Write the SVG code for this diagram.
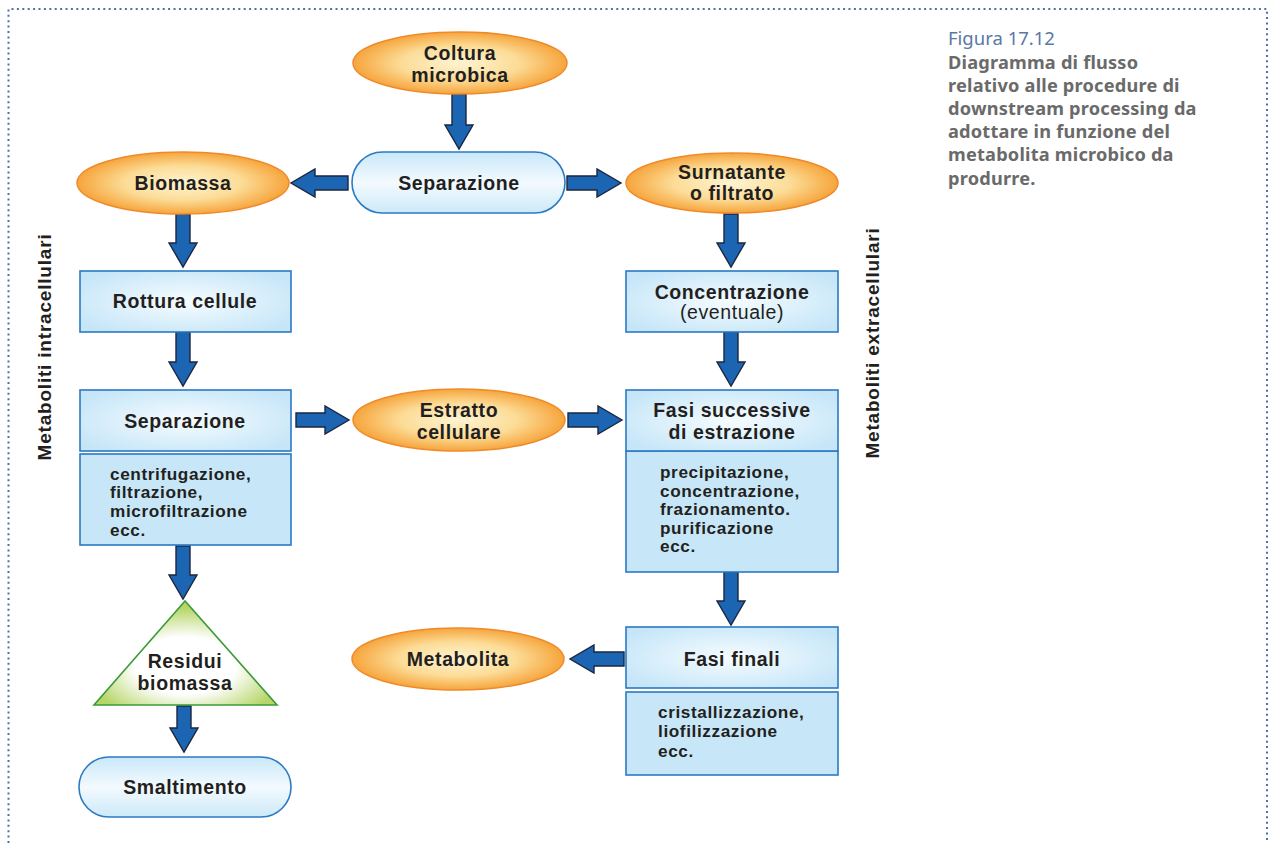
<svg xmlns="http://www.w3.org/2000/svg" width="1275" height="843" viewBox="0 0 1275 843">
<style>
.t{font-family:"Liberation Sans",Arial,sans-serif;font-weight:bold;font-size:19.5px;fill:#231f20;text-anchor:middle;letter-spacing:0.6px}
.r{font-weight:normal}
.d{font-family:"Liberation Sans",Arial,sans-serif;font-weight:bold;font-size:17.2px;fill:#231f20;letter-spacing:0.6px}
.v{font-family:"Liberation Sans",Arial,sans-serif;font-weight:bold;font-size:19px;fill:#231f20;text-anchor:middle;letter-spacing:0.8px}
.ell{fill:url(#og);stroke:#ef8a2c;stroke-width:1.5}
.box{fill:url(#bg);stroke:#2b7ac2;stroke-width:1.6}
.det{fill:#c7e7f8;stroke:#2b7ac2;stroke-width:1.6}
.pill{fill:url(#pg);stroke:#2b7ac2;stroke-width:1.6}
.arr{fill:#1b65b2;stroke:#1c2640;stroke-width:1.4;stroke-linejoin:miter}
.cap{font-family:"Noto Sans","Open Sans",sans-serif;font-size:18.2px;font-weight:bold;fill:#6a6a6a;letter-spacing:0.2px}
</style>
<defs>
<radialGradient id="og" cx="50%" cy="50%" r="50%">
<stop offset="0" stop-color="#fef4d2"/>
<stop offset="0.55" stop-color="#fcdc97"/>
<stop offset="1" stop-color="#f6a53c"/>
</radialGradient>
<radialGradient id="bg" cx="50%" cy="50%" r="60%">
<stop offset="0" stop-color="#f6fcff"/>
<stop offset="1" stop-color="#c6e6f8"/>
</radialGradient>
<linearGradient id="pg" x1="0" y1="0" x2="0" y2="1">
<stop offset="0" stop-color="#c9e8f9"/>
<stop offset="0.5" stop-color="#f3faff"/>
<stop offset="1" stop-color="#cde9f8"/>
</linearGradient>
<radialGradient id="gg" cx="50%" cy="62%" r="55%">
<stop offset="0" stop-color="#ffffff"/>
<stop offset="0.5" stop-color="#ffffff"/>
<stop offset="1" stop-color="#b7d66a"/>
</radialGradient>
</defs>
<rect width="1275" height="843" fill="#ffffff"/>
<path d="M8.5 843 V9 H1267 V843" fill="none" stroke="#4f70a4" stroke-width="2" stroke-dasharray="2 3.4"/>

<g id="caption">
<text x="948" y="45" font-family="'Noto Sans','Open Sans',sans-serif" font-size="18.5px" fill="#5a78a6">Figura 17.12</text>
<text class="cap" x="948" y="69">Diagramma di flusso</text>
<text class="cap" x="948" y="92">relativo alle procedure di</text>
<text class="cap" x="948" y="115">downstream processing da</text>
<text class="cap" x="948" y="138">adottare in funzione del</text>
<text class="cap" x="948" y="161">metabolita microbico da</text>
<text class="cap" x="948" y="185">produrre.</text>
</g>

<g id="label-intra"><text class="v" transform="translate(51 347) rotate(-90)">Metaboliti intracellulari</text></g>
<g id="label-extra"><text class="v" transform="translate(879 343) rotate(-90)">Metaboliti extracellulari</text></g>

<g id="connectors">
<path class="arr" d="M452 94 H466 V125 H473 L459 149 L445 125 H452 Z"/>
<path class="arr" d="M176 214 H190 V243 H197 L183 267 L169 243 H176 Z"/>
<path class="arr" d="M176 332 H190 V362 H197 L183 386 L169 362 H176 Z"/>
<path class="arr" d="M176 546 H190 V575 H197 L183 599 L169 575 H176 Z"/>
<path class="arr" d="M177 706 H191 V728 H198 L184 752 L170 728 H177 Z"/>
<path class="arr" d="M724 214 H738 V243 H745 L731 267 L717 243 H724 Z"/>
<path class="arr" d="M724 332 H738 V362 H745 L731 386 L717 362 H724 Z"/>
<path class="arr" d="M724 572 H738 V601 H745 L731 625 L717 601 H724 Z"/>
<path class="arr" d="M348 176 V190 H315 V197 L291 183 L315 169 V176 Z"/>
<path class="arr" d="M567 176 V190 H597 V197 L621 183 L597 169 V176 Z"/>
<path class="arr" d="M296 413 V427 H325 V434 L349 420 L325 406 V413 Z"/>
<path class="arr" d="M568 413 V427 H598 V434 L622 420 L598 406 V413 Z"/>
<path class="arr" d="M624 652 V666 H594 V673 L570 659 L594 645 V652 Z"/>
</g>

<g id="coltura">
<ellipse class="ell" cx="460" cy="63" rx="107" ry="31"/>
<text class="t" x="460" y="60">Coltura</text>
<text class="t" x="460" y="82">microbica</text>
</g>
<g id="separazione-top">
<rect class="pill" x="352" y="152" width="213" height="61" rx="30.5"/>
<text class="t" x="459" y="190">Separazione</text>
</g>
<g id="biomassa">
<ellipse class="ell" cx="183" cy="183" rx="106" ry="31"/>
<text class="t" x="183" y="190">Biomassa</text>
</g>
<g id="surnatante">
<ellipse class="ell" cx="732" cy="183" rx="106" ry="30"/>
<text class="t" x="732" y="179">Surnatante</text>
<text class="t" x="732" y="200">o filtrato</text>
</g>
<g id="rottura">
<rect class="box" x="80" y="271" width="211" height="61"/>
<text class="t" x="185" y="308">Rottura cellule</text>
</g>
<g id="concentrazione">
<rect class="box" x="626" y="271" width="212" height="61"/>
<text class="t" x="732" y="299">Concentrazione</text>
<text class="t r" x="732" y="319">(eventuale)</text>
</g>
<g id="separazione-left">
<rect class="box" x="80" y="390" width="211" height="61"/>
<text class="t" x="185" y="428">Separazione</text>
<rect class="det" x="80" y="454" width="211" height="91"/>
<text class="d" x="110" y="480">centrifugazione,</text>
<text class="d" x="110" y="498">filtrazione,</text>
<text class="d" x="110" y="517">microfiltrazione</text>
<text class="d" x="110" y="536">ecc.</text>
</g>
<g id="estratto">
<ellipse class="ell" cx="459" cy="420" rx="106" ry="31"/>
<text class="t" x="459" y="417">Estratto</text>
<text class="t" x="459" y="439">cellulare</text>
</g>
<g id="fasi-successive">
<rect class="det" x="626" y="451" width="212" height="121"/>
<rect class="box" x="626" y="390" width="212" height="61"/>
<text class="t" x="732" y="417">Fasi successive</text>
<text class="t" x="732" y="439">di estrazione</text>
<text class="d" x="660" y="478">precipitazione,</text>
<text class="d" x="660" y="497">concentrazione,</text>
<text class="d" x="660" y="515">frazionamento.</text>
<text class="d" x="660" y="534">purificazione</text>
<text class="d" x="660" y="552">ecc.</text>
</g>
<g id="residui">
<polygon points="185,601 94,705 277,705" fill="url(#gg)" stroke="#3d9a3a" stroke-width="1.6" stroke-linejoin="miter"/>
<text class="t" x="185" y="668">Residui</text>
<text class="t" x="185" y="690">biomassa</text>
</g>
<g id="fasi-finali">
<rect class="box" x="626" y="627" width="212" height="61"/>
<text class="t" x="732" y="666">Fasi finali</text>
<rect class="det" x="626" y="692" width="212" height="83"/>
<text class="d" x="658" y="718">cristallizzazione,</text>
<text class="d" x="658" y="737">liofilizzazione</text>
<text class="d" x="658" y="757">ecc.</text>
</g>
<g id="metabolita">
<ellipse class="ell" cx="458" cy="659" rx="106" ry="31"/>
<text class="t" x="458" y="666">Metabolita</text>
</g>
<g id="smaltimento">
<rect class="pill" x="79" y="757" width="212" height="60" rx="30"/>
<text class="t" x="185" y="794">Smaltimento</text>
</g>
</svg>
